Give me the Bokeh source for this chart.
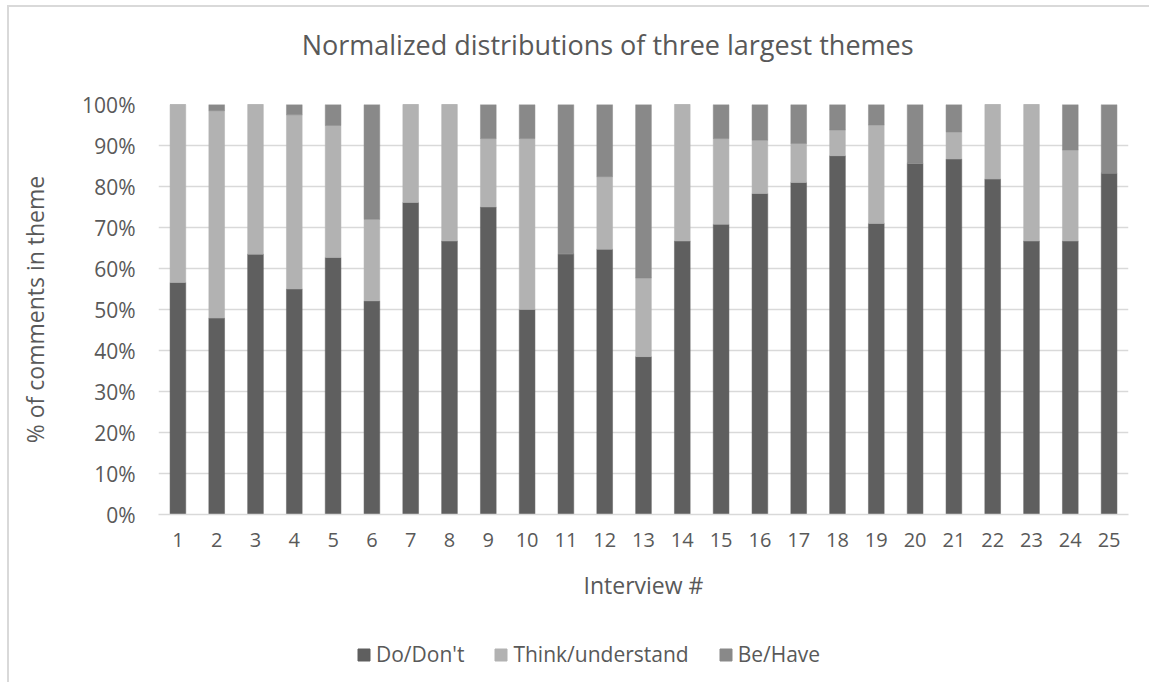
from bokeh.plotting import figure
from bokeh.layouts import column
from bokeh.models import (ColumnDataSource, FactorRange, Range1d, Legend, LegendItem,
                          FixedTicker, NumeralTickFormatter, Label)
from bokeh.embed import file_html
from bokeh.resources import INLINE

interviews = [str(i) for i in range(1, 26)]
do_dont = [0.566, 0.479, 0.635, 0.550, 0.627, 0.521, 0.761, 0.667, 0.750, 0.500,
           0.636, 0.647, 0.385, 0.667, 0.708, 0.783, 0.810, 0.875, 0.710, 0.857,
           0.867, 0.818, 0.667, 0.667, 0.833]
think = [0.434, 0.506, 0.365, 0.425, 0.322, 0.199, 0.239, 0.333, 0.167, 0.417,
         0.000, 0.177, 0.192, 0.333, 0.209, 0.130, 0.095, 0.063, 0.240, 0.000,
         0.066, 0.182, 0.333, 0.222, 0.000]
be_have = [0.000, 0.015, 0.000, 0.025, 0.051, 0.280, 0.000, 0.000, 0.083, 0.083,
           0.364, 0.176, 0.423, 0.000, 0.083, 0.087, 0.095, 0.062, 0.050, 0.143,
           0.067, 0.000, 0.000, 0.111, 0.167]
series = ["Do/Don't", "Think/understand", "Be/Have"]
colors = ["#5f5f5f", "#b2b2b2", "#898989"]
y_ticks = [i / 10 for i in range(11)]
title_text = "Normalized distributions of three largest themes"

src = ColumnDataSource(dict(x=interviews, d=do_dont, t=think, b=be_have))

FONT = "Open Sans"
TXT = "#595959"
W = 1140
BL, BR = 149, 21


def strip(h):
    f = figure(width=W, height=h, output_backend="svg", toolbar_location=None,
               x_axis_type=None, y_axis_type=None, min_border=0,
               min_border_left=BL, min_border_right=BR,
               x_range=Range1d(0, 1), y_range=Range1d(0, 1))
    f.outline_line_color = None
    f.grid.grid_line_color = None
    return f


# title strip
top = strip(82)
top.add_layout(Label(x=0.463, y=0.55, text=title_text, text_align="center",
                     text_baseline="middle", text_font=FONT, text_font_size="27px",
                     text_color=TXT))

# main chart
p = figure(width=W, height=525, x_range=FactorRange(*interviews, range_padding=0),
           y_range=Range1d(0, 1), output_backend="svg", toolbar_location=None,
           min_border_left=BL, min_border_right=BR, min_border_top=15, min_border_bottom=100)
p.outline_line_color = None

rs = p.vbar_stack(["d", "t", "b"], x="x", width=0.405, source=src, color=colors,
                  line_color=colors, line_width=0.5)

p.yaxis.ticker = FixedTicker(ticks=y_ticks)
p.yaxis.formatter = NumeralTickFormatter(format="0%")
p.yaxis.axis_line_color = None
p.yaxis.major_tick_line_color = None
p.yaxis.minor_tick_line_color = None
p.yaxis.major_label_standoff = 17
p.yaxis.axis_label = "% of comments in theme"
p.yaxis.axis_label_standoff = 28

p.xaxis.axis_line_color = "#d9d9d9"
p.xaxis.axis_line_width = 1.5
p.xaxis.major_tick_line_color = None
p.xaxis.minor_tick_line_color = None
p.xaxis.major_label_standoff = 12
p.xaxis.axis_label = "Interview #"
p.xaxis.axis_label_standoff = 19

for ax in (p.xaxis, p.yaxis):
    ax.major_label_text_font = FONT
    ax.major_label_text_color = TXT
    ax.axis_label_text_font = FONT
    ax.axis_label_text_font_size = "23px"
    ax.axis_label_text_color = TXT
    ax.axis_label_text_font_style = "normal"
p.xaxis.major_label_text_font_size = "20px"
p.yaxis.major_label_text_font_size = "21px"

p.xgrid.grid_line_color = None
p.ygrid.grid_line_color = "#d9d9d9"
p.ygrid.grid_line_width = 1.5

# legend strip below the chart (legend-only renderers carry no visible data)
leg = strip(68)
lrs = [leg.vbar(x=[0.5], top=[float("nan")], width=0.4, color=c) for c in colors]
legend = Legend(items=[LegendItem(label=s, renderers=[r]) for s, r in zip(series, lrs)],
                orientation="horizontal", location=(198, 14),
                label_text_font=FONT, label_text_font_size="21px", label_text_color=TXT,
                glyph_width=15, glyph_height=15, label_standoff=5, spacing=29,
                padding=0, margin=0, border_line_color=None, background_fill_alpha=0)
leg.add_layout(legend, "center")

layout = column(top, p, leg, spacing=0,
                styles={"border-left": "2px solid #d9d9d9", "border-top": "2px solid #d9d9d9",
                        "margin-left": "7px", "margin-top": "5px"})

open("out.html", "w").write(file_html(layout, INLINE))
